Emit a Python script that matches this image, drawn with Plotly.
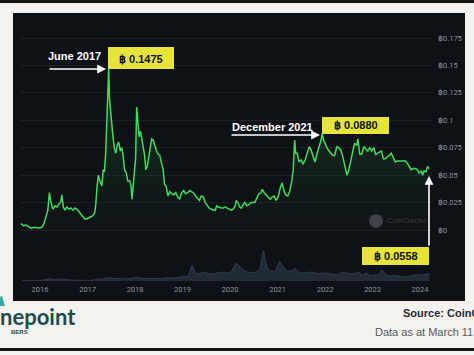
import plotly.graph_objects as go
from datetime import date, timedelta

# ---------------- data ----------------
price_dates = [
    "2015-08-08", "2015-08-25", "2015-09-15", "2015-10-10", "2015-10-25", "2015-11-15", "2015-12-05", "2015-12-25",
    "2016-01-15", "2016-02-01", "2016-02-15", "2016-03-01", "2016-03-13", "2016-03-25", "2016-04-10", "2016-04-25",
    "2016-05-10", "2016-05-25", "2016-06-10", "2016-06-17", "2016-06-28", "2016-07-10", "2016-07-25", "2016-08-10",
    "2016-08-25", "2016-09-10", "2016-09-25", "2016-10-10", "2016-10-25", "2016-11-10", "2016-11-25", "2016-12-10",
    "2016-12-25", "2017-01-10", "2017-01-25", "2017-02-10", "2017-02-25", "2017-03-05", "2017-03-15", "2017-03-25",
    "2017-04-05", "2017-04-20", "2017-05-01", "2017-05-10", "2017-05-20", "2017-05-28", "2017-06-05", "2017-06-12",
    "2017-06-18", "2017-06-25", "2017-07-05", "2017-07-15", "2017-07-25", "2017-08-05", "2017-08-18", "2017-08-28",
    "2017-09-10", "2017-09-20", "2017-10-01", "2017-10-12", "2017-10-25", "2017-11-05", "2017-11-20", "2017-12-01",
    "2017-12-08", "2017-12-15", "2017-12-25", "2018-01-05", "2018-01-13", "2018-01-22", "2018-02-01", "2018-02-12",
    "2018-02-25", "2018-03-05", "2018-03-15", "2018-03-25", "2018-04-05", "2018-04-15", "2018-04-28", "2018-05-08",
    "2018-05-20", "2018-06-01", "2018-06-15", "2018-06-28", "2018-07-10", "2018-07-25", "2018-08-05", "2018-08-15",
    "2018-08-28", "2018-09-10", "2018-09-25", "2018-10-10", "2018-10-25", "2018-11-10", "2018-11-25", "2018-12-10",
    "2018-12-25", "2019-01-10", "2019-01-25", "2019-02-10", "2019-02-25", "2019-03-10", "2019-03-25", "2019-04-10",
    "2019-04-25", "2019-05-10", "2019-05-25", "2019-06-10", "2019-06-25", "2019-07-10", "2019-07-25", "2019-08-10",
    "2019-08-25", "2019-09-10", "2019-09-20", "2019-10-05", "2019-10-25", "2019-11-10", "2019-11-25", "2019-12-10",
    "2019-12-25", "2020-01-10", "2020-01-25", "2020-02-10", "2020-02-18", "2020-03-01", "2020-03-15", "2020-03-28",
    "2020-04-10", "2020-04-25", "2020-05-10", "2020-05-25", "2020-06-10", "2020-06-25", "2020-07-10", "2020-07-25",
    "2020-08-10", "2020-08-25", "2020-09-05", "2020-09-20", "2020-10-05", "2020-10-20", "2020-11-05", "2020-11-20",
    "2020-12-05", "2020-12-20", "2021-01-05", "2021-01-20", "2021-02-05", "2021-02-20", "2021-03-05", "2021-03-20",
    "2021-04-05", "2021-04-20", "2021-05-01", "2021-05-12", "2021-05-20", "2021-06-01", "2021-06-15", "2021-07-01",
    "2021-07-15", "2021-08-01", "2021-08-15", "2021-09-01", "2021-09-15", "2021-10-01", "2021-10-15", "2021-11-01",
    "2021-11-15", "2021-12-01", "2021-12-10", "2021-12-20", "2022-01-01", "2022-01-15", "2022-02-01", "2022-02-15",
    "2022-03-01", "2022-03-15", "2022-04-01", "2022-04-15", "2022-05-01", "2022-05-15", "2022-06-01", "2022-06-18",
    "2022-07-01", "2022-07-15", "2022-08-01", "2022-08-15", "2022-09-01", "2022-09-10", "2022-09-25", "2022-10-10",
    "2022-10-25", "2022-11-10", "2022-11-25", "2022-12-10", "2022-12-25", "2023-01-10", "2023-01-25", "2023-02-10",
    "2023-02-25", "2023-03-10", "2023-03-25", "2023-04-10", "2023-04-25", "2023-05-10", "2023-05-25", "2023-06-10",
    "2023-06-25", "2023-07-10", "2023-07-25", "2023-08-10", "2023-08-25", "2023-09-10", "2023-09-25", "2023-10-10",
    "2023-10-25", "2023-11-10", "2023-11-25", "2023-12-10", "2023-12-25", "2024-01-10", "2024-01-20", "2024-02-01",
    "2024-02-15", "2024-02-28", "2024-03-05", "2024-03-11",
]
price_values = [
    0.0060, 0.0040, 0.0045, 0.0023, 0.0016, 0.0024, 0.0021, 0.0019,
    0.0025, 0.0060, 0.0120, 0.0180, 0.0340, 0.0250, 0.0190, 0.0220,
    0.0210, 0.0240, 0.0260, 0.0320, 0.0210, 0.0180, 0.0210, 0.0190,
    0.0200, 0.0180, 0.0200, 0.0190, 0.0170, 0.0150, 0.0120, 0.0100,
    0.0100, 0.0110, 0.0120, 0.0130, 0.0160, 0.0240, 0.0400, 0.0500,
    0.0450, 0.0400, 0.0550, 0.0530, 0.0700, 0.1000, 0.1100, 0.1475,
    0.1200, 0.1100, 0.0950, 0.0850, 0.0750, 0.0700, 0.0780, 0.0800,
    0.0720, 0.0750, 0.0680, 0.0550, 0.0520, 0.0450, 0.0450, 0.0400,
    0.0280, 0.0380, 0.0500, 0.0650, 0.1120, 0.0950, 0.0850, 0.0900,
    0.0780, 0.0750, 0.0680, 0.0550, 0.0580, 0.0650, 0.0780, 0.0830,
    0.0820, 0.0770, 0.0720, 0.0690, 0.0680, 0.0600, 0.0550, 0.0420,
    0.0400, 0.0310, 0.0350, 0.0330, 0.0320, 0.0340, 0.0300, 0.0280,
    0.0340, 0.0360, 0.0330, 0.0340, 0.0360, 0.0350, 0.0340, 0.0310,
    0.0290, 0.0270, 0.0310, 0.0300, 0.0250, 0.0220, 0.0200, 0.0190,
    0.0180, 0.0180, 0.0220, 0.0210, 0.0200, 0.0200, 0.0210, 0.0200,
    0.0190, 0.0180, 0.0190, 0.0220, 0.0270, 0.0250, 0.0210, 0.0200,
    0.0230, 0.0250, 0.0220, 0.0230, 0.0250, 0.0250, 0.0250, 0.0290,
    0.0330, 0.0340, 0.0370, 0.0340, 0.0320, 0.0310, 0.0280, 0.0300,
    0.0310, 0.0270, 0.0300, 0.0380, 0.0430, 0.0350, 0.0320, 0.0310,
    0.0360, 0.0450, 0.0550, 0.0820, 0.0700, 0.0700, 0.0620, 0.0640,
    0.0600, 0.0640, 0.0700, 0.0760, 0.0730, 0.0680, 0.0620, 0.0700,
    0.0750, 0.0820, 0.0880, 0.0820, 0.0790, 0.0750, 0.0720, 0.0700,
    0.0680, 0.0680, 0.0760, 0.0750, 0.0730, 0.0680, 0.0600, 0.0500,
    0.0540, 0.0620, 0.0720, 0.0790, 0.0770, 0.0830, 0.0690, 0.0690,
    0.0760, 0.0740, 0.0720, 0.0750, 0.0720, 0.0750, 0.0690, 0.0700,
    0.0710, 0.0720, 0.0650, 0.0650, 0.0670, 0.0680, 0.0700, 0.0650,
    0.0620, 0.0630, 0.0630, 0.0630, 0.0630, 0.0630, 0.0610, 0.0580,
    0.0550, 0.0560, 0.0560, 0.0550, 0.0520, 0.0540, 0.0500, 0.0540,
    0.0530, 0.0580, 0.0560, 0.0558,
]

vol_start = (2015, 8)
vol_values = [
    1.0, 0.8, 0.6, 0.7, 0.6,
    0.8, 1.5, 2.5, 1.8, 1.5, 2.0, 1.6, 1.2, 1.0, 1.0, 0.9, 0.8,
    0.8, 1.0, 2.0, 2.0, 2.8, 3.5, 3.0, 2.5, 2.5, 2.2, 2.5, 3.0,
    3.5, 3.0, 2.5, 2.5, 3.0, 2.5, 2.5, 2.8, 3.5, 3.0, 3.5, 4.0,
    4.5, 5.0, 16.0, 7.0, 8.0, 9.0, 7.5, 7.0, 8.0, 8.5, 9.0, 8.0,
    10.0, 18.0, 15.0, 11.0, 9.0, 8.5, 9.0, 12.0, 30.0, 12.0, 10.0, 10.0,
    20.0, 14.0, 10.0, 10.0, 13.0, 9.0, 8.0, 8.5, 9.0, 8.0, 7.5, 8.0,
    8.0, 7.0, 6.5, 6.5, 9.0, 8.0, 7.0, 7.5, 9.0, 5.5, 8.0, 5.5,
    6.0, 6.0, 11.0, 6.0, 5.0, 5.5, 5.0, 4.5, 4.0, 5.0, 6.0, 6.5,
    6.0, 6.5, 7.0,
]
vol_dates = []
_y, _m = vol_start
for _ in vol_values:
    vol_dates.append(f"{_y}-{_m:02d}-15")
    _m += 1
    if _m > 12:
        _m, _y = 1, _y + 1

ytick_vals = [0, 0.025, 0.05, 0.075, 0.1, 0.125, 0.15, 0.175]
ytick_text = ["฿0", "฿0.025", "฿0.05", "฿0.075", "฿0.1", "฿0.125", "฿0.15", "฿0.175"]
xtick_years = [2016, 2017, 2018, 2019, 2020, 2021, 2022, 2023, 2024]

# ---------------- layout helpers ----------------
W, H = 474, 355
def px(x): return x / W
def py(y): return 1 - y / H

YEAR_PX = 47.5
X2016 = 40.0
def px_to_date(p):
    return (date(2016, 1, 1) + timedelta(days=(p - X2016) / YEAR_PX * 365.25)).isoformat()

PX_PER_UNIT = (230 - 38) / 0.175
def py_to_val(p):
    return (230 - p) / PX_PER_UNIT

fig = go.Figure()

fig.add_trace(go.Scatter(
    x=vol_dates, y=vol_values, yaxis="y2", mode="lines",
    line=dict(color="rgba(105,128,158,0.5)", width=0.6, shape="spline", smoothing=0.3),
    fill="tozeroy", fillcolor="rgba(62,82,108,0.4)", hoverinfo="skip", showlegend=False,
))

fig.add_trace(go.Scatter(
    x=price_dates, y=price_values, mode="lines",
    line=dict(color="#3fdc5e", width=1.5),
    fill="tozeroy",
    fillgradient=dict(type="vertical",
                      colorscale=[[0, "rgba(20,70,35,0.05)"], [1, "rgba(45,160,75,0.35)"]]),
    showlegend=False,
))

tick_font = dict(family="Roboto, Liberation Sans, Arial", size=7.5, color="#8d939c")

fig.update_layout(
    width=W, height=H,
    margin=dict(l=0, r=0, t=0, b=0),
    paper_bgcolor="#f4f2ee",
    plot_bgcolor="rgba(0,0,0,0)",
    xaxis=dict(
        domain=[px(20), px(432)],
        range=[px_to_date(20), px_to_date(432)],
        type="date", anchor="y2",
        tickvals=[f"{y}-01-01" for y in xtick_years],
        ticktext=[str(y) for y in xtick_years],
        tickfont=tick_font, showgrid=False, zeroline=False, showline=False,
        ticks="", ticklabelstandoff=2,
    ),
    yaxis=dict(
        domain=[py(242), py(18)],
        range=[py_to_val(242), py_to_val(18)],
        side="right", anchor="x",
        tickvals=ytick_vals, ticktext=ytick_text,
        tickfont=tick_font,
        showgrid=True, gridcolor="rgba(255,255,255,0.07)", gridwidth=1,
        zeroline=False, showline=False, ticks="", ticklabelstandoff=5,
    ),
    yaxis2=dict(
        domain=[py(281), py(241)],
        range=[0, 40], anchor="x",
        showgrid=False, zeroline=False, showline=False, showticklabels=False,
    ),
)

shapes = [
    # dark chart panel
    dict(type="rect", xref="paper", yref="paper", x0=px(13), x1=px(465), y0=py(301), y1=py(13),
         fillcolor="#0e1116", line=dict(width=0), layer="below"),
    # top and bottom black bars
    dict(type="rect", xref="paper", yref="paper", x0=0, x1=1, y0=py(3), y1=1,
         fillcolor="#141414", line=dict(width=0), layer="below"),
    dict(type="rect", xref="paper", yref="paper", x0=0, x1=1, y0=py(351), y1=py(348),
         fillcolor="#141414", line=dict(width=0), layer="below"),
    # yellow value boxes
    dict(type="rect", xref="paper", yref="paper", x0=px(108), x1=px(174), y0=py(69), y1=py(47),
         fillcolor="#e6e33a", line=dict(width=0), layer="above"),
    dict(type="rect", xref="paper", yref="paper", x0=px(322), x1=px(389), y0=py(134), y1=py(117),
         fillcolor="#e6e33a", line=dict(width=0), layer="above"),
    dict(type="rect", xref="paper", yref="paper", x0=px(362), x1=px(429), y0=py(265), y1=py(247),
         fillcolor="#e6e33a", line=dict(width=0), layer="above"),
    # CoinGecko watermark circle
    dict(type="circle", xref="paper", yref="paper", x0=px(369), x1=px(383), y0=py(228), y1=py(214),
         fillcolor="#3f4349", line=dict(width=0), layer="above"),
    # logo teal mark
    dict(type="path", xref="paper", yref="paper",
         path=f"M 0 {py(306)} L {px(5)} {py(306)} L {px(2)} {py(296)} L 0 {py(297)} Z",
         fillcolor="#3aa99f", line=dict(width=0), layer="above"),
]
fig.update_layout(shapes=shapes)

bold = dict(family="Liberation Sans, Arial", size=11, color="white", weight="bold")
box_font = dict(family="Liberation Sans, Arial", size=11, color="#111111", weight="bold")

ann = [
    dict(x=px(74), y=py(56), text="June 2017", font=bold),
    dict(x=px(272), y=py(127), text="December 2021", font=bold),
    dict(x=px(141), y=py(58.5), text="฿ 0.1475", font=box_font),
    dict(x=px(355.5), y=py(125.5), text="฿ 0.0880", font=box_font),
    dict(x=px(395.5), y=py(256), text="฿ 0.0558", font=box_font),
    # arrows
    dict(x=px(106), y=py(69), text="", showarrow=True, ax=-58, ay=0,
         arrowhead=2, arrowsize=1.1, arrowwidth=1.6, arrowcolor="white"),
    dict(x=px(320), y=py(135), text="", showarrow=True, ax=-90, ay=0,
         arrowhead=2, arrowsize=1.1, arrowwidth=1.6, arrowcolor="white"),
    dict(x=px(429), y=py(176), text="", showarrow=True, ax=0, ay=71,
         arrowhead=2, arrowsize=1.1, arrowwidth=1.6, arrowcolor="white"),
    # watermark text
    dict(x=px(385), y=py(221), text="CoinGecko", xanchor="left",
         font=dict(family="Liberation Sans, Arial", size=8, color="#3a3e44")),
    # logo text
    dict(x=px(-2), y=py(316), text="nepoint", xanchor="left",
         font=dict(family="Lato, Open Sans, Arial", size=22, color="#1f4b50", weight="bold")),
    dict(x=px(9), y=py(332), text="BERS", xanchor="left",
         font=dict(family="Liberation Sans, Arial", size=6, color="#1f4b50", weight="bold")),
    # source notes
    dict(x=px(401), y=py(313), text="Source: CoinGecko", xanchor="left",
         font=dict(family="Liberation Sans, Arial", size=11, color="#1d2b35", weight="bold")),
    dict(x=px(373), y=py(332), text="Data as at March 11, 2024", xanchor="left",
         font=dict(family="Liberation Sans, Arial", size=11, color="#555a5e")),
]
for a in ann:
    a.setdefault("xref", "paper")
    a.setdefault("yref", "paper")
    a.setdefault("showarrow", False)
    a.setdefault("xanchor", "center")
    a.setdefault("yanchor", "middle")
fig.update_layout(annotations=ann)

fig.write_html(
    "out.html",
    config={"displayModeBar": False},
    post_script="document.body.style.margin='0';document.body.style.overflow='hidden';",
)
